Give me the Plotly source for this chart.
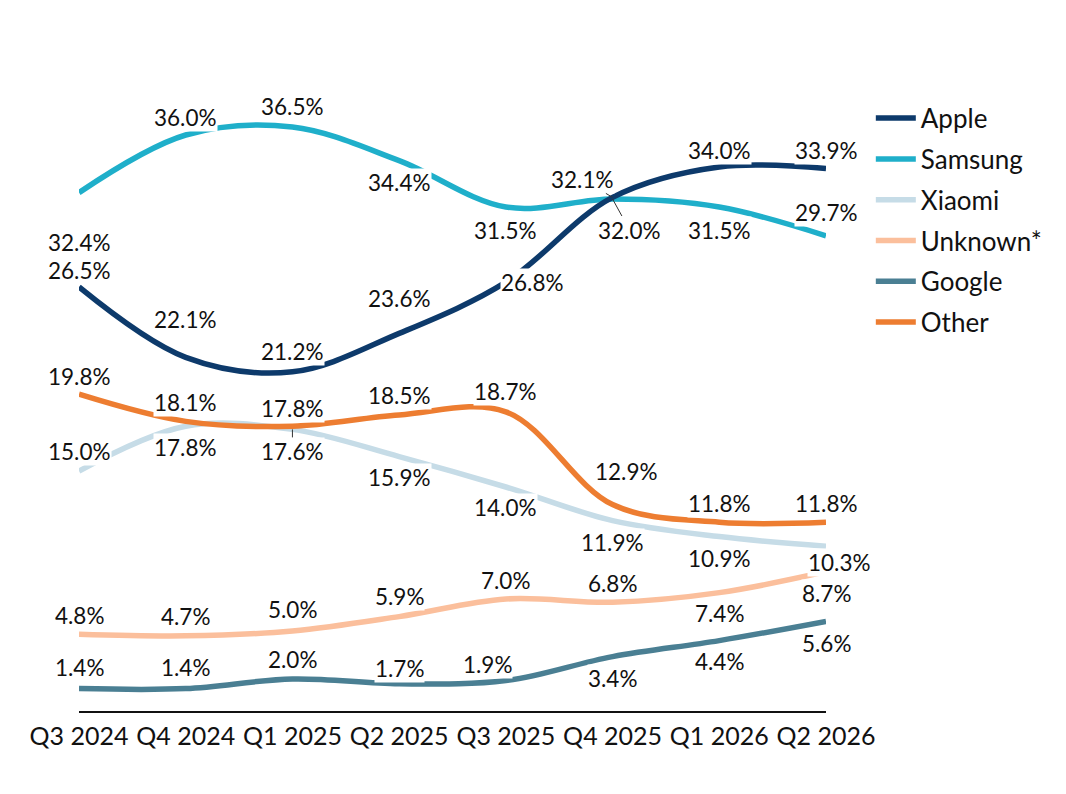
import plotly.graph_objects as go

quarters = ["Q3 2024", "Q4 2024", "Q1 2025", "Q2 2025",
            "Q3 2025", "Q4 2025", "Q1 2026", "Q2 2026"]

apple = [26.5, 22.1, 21.2, 23.6, 26.8, 32.1, 34.0, 33.9]
samsung = [32.4, 36.0, 36.5, 34.4, 31.5, 32.0, 31.5, 29.7]
xiaomi = [15.0, 17.8, 17.6, 15.9, 14.0, 11.9, 10.9, 10.3]
unknown = [4.8, 4.7, 5.0, 5.9, 7.0, 6.8, 7.4, 8.7]
google = [1.4, 1.4, 2.0, 1.7, 1.9, 3.4, 4.4, 5.6]
other = [19.8, 18.1, 17.8, 18.5, 18.7, 12.9, 11.8, 11.8]

# name, values, colour, legend rank, label offsets (dx, dy in px, + is up), leader-line flags
series = [
    ("Samsung", samsung, "#1fafca", 2,
     [(0, -50), (0, 18), (0, 21), (0, -22), (0, -23), (17, -31), (0, -23), (0, 23)],
     [0, 0, 0, 0, 0, 1, 0, 0]),
    ("Apple", apple, "#0d3a6b", 1,
     [(0, 17), (0, 38), (0, 20), (0, 35), (27, 0), (-30, 18), (0, 17), (0, 18)],
     [0, 0, 0, 0, 0, 1, 0, 0]),
    ("Xiaomi", xiaomi, "#c6dce7", 3,
     [(0, 20), (0, -21), (0, -22), (0, -21), (0, -20), (0, -22), (0, -22), (13, -16)],
     [0, 0, 1, 0, 0, 0, 0, 0]),
    ("Unknown*", unknown, "#fbbf9c", 4,
     [(0, 19), (0, 19), (0, 22), (0, 20), (0, 19), (0, 19), (0, -21), (0, -22)],
     [0] * 8),
    ("Google", google, "#4a7f93", 5,
     [(0, 21), (0, 21), (0, 20), (0, 15), (-18, 16), (0, -22), (0, -21), (0, -22)],
     [0] * 8),
    ("Other", other, "#ed7d31", 6,
     [(0, 18), (0, 19), (0, 18), (0, 20), (0, 20), (14, 33), (0, 19), (0, 19)],
     [0] * 8),
]

fig = go.Figure()
annotations = []
for name, vals, color, rank, offs, leaders in series:
    fig.add_trace(go.Scatter(
        x=quarters, y=vals, name=name, mode="lines",
        line=dict(color=color, width=5.5, shape="spline", smoothing=1),
        legendrank=rank, legendgroup=name, hoverinfo="skip",
    ))
    for q, v, (dx, dy), lead in zip(quarters, vals, offs, leaders):
        a = dict(x=q, y=v, text=f"{v:.1f}%", bgcolor="white", borderpad=0,
                 font=dict(family="Lato", size=22.5, color="#111111"))
        if lead:
            a.update(showarrow=True, arrowhead=0, arrowwidth=1, arrowcolor="#333333",
                     standoff=0, ax=dx, ay=-dy)
        else:
            a.update(showarrow=False, xshift=dx, yshift=dy)
        annotations.append(a)

fig.update_layout(
    width=1066, height=794,
    margin=dict(l=71, r=248, t=63, b=91),
    paper_bgcolor="white", plot_bgcolor="white",
    font=dict(family="Lato", size=25, color="#111111"),
    showlegend=True,
    legend=dict(x=1.06, y=0.963, xanchor="left", yanchor="top",
                font=dict(size=26), tracegroupgap=4, itemwidth=40),
    annotations=annotations,
)
fig.update_xaxes(type="category", range=[0, 7], showline=True, linecolor="#111111",
                 linewidth=1.5, showgrid=False, ticks="", ticklabelstandoff=2,
                 tickfont=dict(size=25))
fig.update_yaxes(visible=False, range=[0, 40])

fig.write_html("out.html")
